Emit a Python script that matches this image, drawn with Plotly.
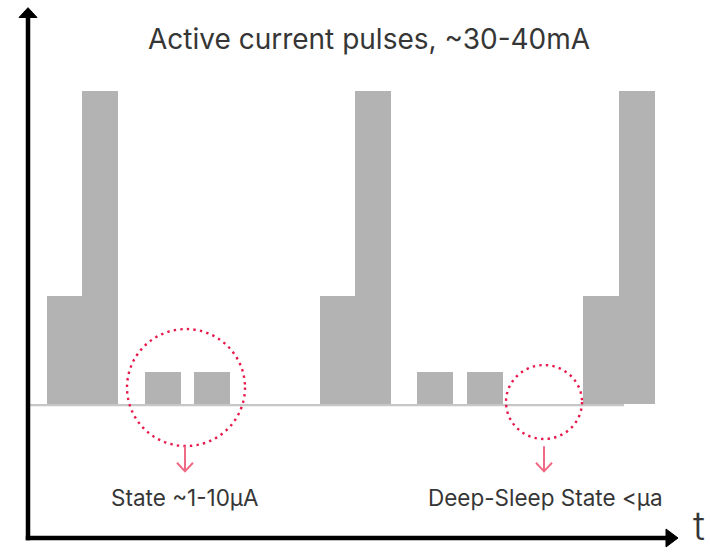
import plotly.graph_objects as go

# ---- data (time in arbitrary units, current level in arbitrary units) ----
pulse_centers = [3.65, 7.2, 13.5, 18.4, 30.95, 34.5, 40.7, 45.7, 57.3, 60.9]
pulse_levels = [13.8, 40, 4.1, 4.1, 13.8, 40, 4.1, 4.1, 13.8, 40]
pulse_width = 3.55

title_text = "Active current pulses, ~30-40mA"
label_sleep = "State ~1-10μA"
label_deep = "Deep-Sleep State <μa"
axis_label_t = "t"

FONT = "Inter"
TEXT_COLOR = "#363636"
BAR_COLOR = "#b3b3b3"
DOT_COLOR = "#e8194b"
ARROW_COLOR = "#ee6a85"

fig = go.Figure()
fig.add_trace(go.Bar(
    x=pulse_centers, y=pulse_levels, width=pulse_width,
    marker=dict(color=BAR_COLOR, line=dict(width=0)),
    hoverinfo="skip", showlegend=False,
))

shapes = []
# baseline
shapes.append(dict(type="line", xref="x", yref="y", x0=0.2, x1=59.6, y0=-0.15, y1=-0.15,
                   line=dict(color="#c6c6c6", width=2.2), layer="below"))
# y axis with arrow
shapes.append(dict(type="line", xref="x", yref="y", x0=0, x1=0, y0=-17.4, y1=49.6,
                   line=dict(color="black", width=4.5)))
shapes.append(dict(type="path", xref="x", yref="y",
                   path="M -0.9,49.4 L 0,50.65 L 0.9,49.4 Z",
                   fillcolor="black", line=dict(color="black", width=1)))
# x axis with arrow
shapes.append(dict(type="line", xref="x", yref="y", x0=-0.22, x1=64.0, y0=-17.12, y1=-17.12,
                   line=dict(color="black", width=4.5)))
shapes.append(dict(type="path", xref="x", yref="y",
                   path="M 63.8,-15.97 L 65.0,-17.12 L 63.8,-18.27 Z",
                   fillcolor="black", line=dict(color="black", width=1)))
# dotted circles
shapes.append(dict(type="circle", xref="x", yref="y", x0=9.9, x1=21.7, y0=-5.37, y1=9.58,
                   line=dict(color=DOT_COLOR, width=2.4, dash="2.4px,4.2px")))
shapes.append(dict(type="circle", xref="x", yref="y", x0=47.8, x1=55.4, y0=-4.47, y1=4.98,
                   line=dict(color=DOT_COLOR, width=2.4, dash="2.4px,4.2px")))
# arrows under circles
for cx in (15.7, 51.6):
    shapes.append(dict(type="line", xref="x", yref="y", x0=cx, x1=cx, y0=-5.4, y1=-8.6,
                       line=dict(color=ARROW_COLOR, width=2)))
    shapes.append(dict(type="path", xref="x", yref="y",
                       path=f"M {cx-0.8},-7.5 L {cx},-8.6 L {cx+0.8},-7.5",
                       line=dict(color=ARROW_COLOR, width=2)))

annotations = [
    dict(text=title_text, x=34.1, y=46.6, xref="x", yref="y", showarrow=False,
         font=dict(family=FONT, size=28, color=TEXT_COLOR)),
    dict(text=label_sleep, x=15.7, y=-11.9, xref="x", yref="y", showarrow=False,
         font=dict(family=FONT, size=22.5, color=TEXT_COLOR)),
    dict(text=label_deep, x=51.7, y=-11.9, xref="x", yref="y", showarrow=False,
         font=dict(family=FONT, size=22.5, color=TEXT_COLOR)),
    dict(text=axis_label_t, x=66.3, y=-18.85, xref="x", yref="y", showarrow=False,
         xanchor="left", yanchor="bottom",
         font=dict(family=FONT, size=40, color=TEXT_COLOR, weight=300)),
]

fig.update_layout(
    width=710, height=552,
    margin=dict(l=0, r=0, t=0, b=0),
    paper_bgcolor="white", plot_bgcolor="white",
    xaxis=dict(range=[-2.8, 68.2], visible=False, domain=[0, 1]),
    yaxis=dict(range=[-18.91, 51.63], visible=False, domain=[0, 1]),
    shapes=shapes, annotations=annotations,
    bargap=0,
)

fig.write_html("out.html", config={"displayModeBar": False},
               post_script="document.body.style.margin='0px';document.body.style.overflow='hidden';")
